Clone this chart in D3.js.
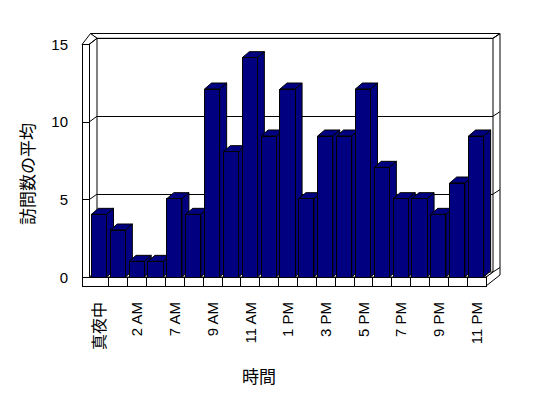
<!DOCTYPE html>
<html>
<head>
<meta charset="utf-8">
<title>訪問数の平均</title>
<style>
body { margin: 0; background: #fff; }
</style>
</head>
<body>

<div id="chart"></div>

<script src="https://d3js.org/d3.v7.min.js"></script>
<script>
// categories (hours) and average visit counts
const hours = ["真夜中", "1 AM", "2 AM", "6 AM", "7 AM", "8 AM", "9 AM", "10 AM", "11 AM", "正午",
               "1 PM", "2 PM", "3 PM", "4 PM", "5 PM", "6 PM", "7 PM", "8 PM", "9 PM", "10 PM", "11 PM"];
const visits = [4, 3, 1, 1, 5, 4, 12, 8, 14, 9, 12, 5, 9, 9, 12, 7, 5, 5, 4, 6, 9];
const yTicks = [0, 5, 10, 15];

const width = 548;
const height = 398;
const latin = "'Liberation Sans', Arial, sans-serif";
const cjk = "'Noto Sans CJK JP', sans-serif";

const svg = d3.select("#chart")
  .append("svg")
  .attr("width", width)
  .attr("height", height);

svg.append("rect")
    .attr("width", width)
    .attr("height", height)
    .attr("fill", "#fff");

// scales
const x = d3.scaleBand().domain(hours).range([90, 486]);
const yBar = d3.scaleLinear().domain([0, 15]).range([277, 42]);
const yFront = d3.scaleLinear().domain([0, 15]).range([277.5, 44.5]);
const yBack = d3.scaleLinear().domain([0, 15]).range([272, 38.3]);

const bw = x.bandwidth();
const barW = bw * 0.8;
const dx = 7, dy = -6;       // bar depth
const backL = 97, backR = 493;
const wallL = 82, wallIn = 89;
const floorY = 277, floorBot = 286;

const line = d3.line();

// back wall top slab and left wall top
svg.append("path")
    .attr("d", line([[backL, yBack(15)], [backR, yBack(15)], [500, 33.5], [90.5, 33.5]]) + "Z")
    .attr("fill", "#fff").attr("stroke", "#000");
svg.append("path")
    .attr("d", line([[wallL, yFront(15)], [wallIn, yFront(15)], [backL, yBack(15)], [90.5, 33.5]]) + "Z")
    .attr("fill", "#fff").attr("stroke", "#000");

// right side of wall and floor
svg.append("path")
    .attr("d", line([[backR, yBack(15)], [500, 33.5], [500, 275], [486, floorBot], [486, floorY], [backR, yBack(0)]]) + "Z")
    .attr("fill", "#fff").attr("stroke", "#000");

// back wall edges
svg.append("line")
    .attr("x1", backL).attr("x2", backL)
    .attr("y1", yBack(15)).attr("y2", yBack(0))
    .attr("stroke", "#000");

// gridlines on back wall, left wall and right side
const grid = svg.append("g").attr("stroke", "#000").attr("fill", "none");
yTicks.forEach(v => {
    grid.append("line")
        .attr("x1", backL).attr("x2", backR)
        .attr("y1", yBack(v)).attr("y2", yBack(v))
        .attr("shape-rendering", "crispEdges");
    grid.append("path")
        .attr("d", line([[wallL, yFront(v)], [wallIn, yFront(v)], [backL, yBack(v)]]));
    grid.append("line")
        .attr("x1", backR).attr("x2", 500)
        .attr("y1", yBack(v)).attr("y2", yBack(v) - 4.5);
});

// floor top
svg.append("path")
    .attr("d", line([[wallIn, floorY], [486, floorY], [backR, yBack(0)], [backL, yBack(0)]]) + "Z")
    .attr("fill", "#fff").attr("stroke", "#000");

// bars
const bars = svg.append("g");
hours.forEach((h, i) => {
    const x0 = x(h) + bw * 0.075;
    const x1 = x0 + barW;
    const yt = yBar(visits[i]);
    const g = bars.append("g").attr("fill", "#000080").attr("stroke", "#000");
    g.append("path")
        .attr("d", line([[x1, yt], [x1 + dx, yt + dy], [x1 + dx, floorY + dy], [x1, floorY]]) + "Z");
    g.append("path")
        .attr("d", line([[x0, yt], [x0 + dx, yt + dy], [x1 + dx, yt + dy], [x1, yt]]) + "Z");
    g.append("rect")
        .attr("x", x0).attr("y", yt)
        .attr("width", barW).attr("height", floorY - yt)
        .attr("shape-rendering", "crispEdges");
});

// front face of left wall and floor
svg.append("path")
    .attr("d", line([[wallL, yFront(15)], [wallIn, yFront(15)], [wallIn, floorY], [486, floorY],
                     [486, floorBot], [wallL, floorBot]]) + "Z")
    .attr("fill", "#fff").attr("stroke", "#000")
    .attr("shape-rendering", "crispEdges");
yTicks.forEach(v => {
    svg.append("line")
        .attr("x1", wallL).attr("x2", wallIn)
        .attr("y1", yFront(v)).attr("y2", yFront(v))
        .attr("stroke", "#000")
        .attr("shape-rendering", "crispEdges");
});
hours.slice(1).forEach(h => {
    svg.append("line")
        .attr("x1", x(h)).attr("x2", x(h))
        .attr("y1", floorY).attr("y2", floorBot)
        .attr("stroke", "#000")
        .attr("shape-rendering", "crispEdges");
});

// y tick labels
svg.append("g")
  .selectAll("text")
  .data(yTicks)
  .join("text")
    .attr("x", 68)
    .attr("y", d => yFront(d))
    .attr("dy", "0.35em")
    .attr("text-anchor", "end")
    .attr("font-family", latin)
    .attr("font-size", 15)
    .text(d => d);

// x tick labels (every other category)
svg.append("g")
  .selectAll("text")
  .data(hours.filter((d, i) => i % 2 === 0))
  .join("text")
    .attr("transform", d => `translate(${x(d) + bw / 2},302) rotate(-90)`)
    .attr("dy", "0.35em")
    .attr("text-anchor", "end")
    .attr("font-family", d => /[A-Z]/.test(d) ? latin : cjk)
    .attr("font-size", d => /[A-Z]/.test(d) ? 15 : 16)
    .text(d => d);

// axis titles
svg.append("text")
    .attr("transform", "translate(28,174) rotate(-90)")
    .attr("dy", "0.35em")
    .attr("text-anchor", "middle")
    .attr("font-family", cjk)
    .attr("font-size", 17)
    .text("訪問数の平均");

svg.append("text")
    .attr("x", 259)
    .attr("y", 377)
    .attr("dy", "0.35em")
    .attr("text-anchor", "middle")
    .attr("font-family", cjk)
    .attr("font-size", 17)
    .text("時間");
</script>

</body>
</html>
